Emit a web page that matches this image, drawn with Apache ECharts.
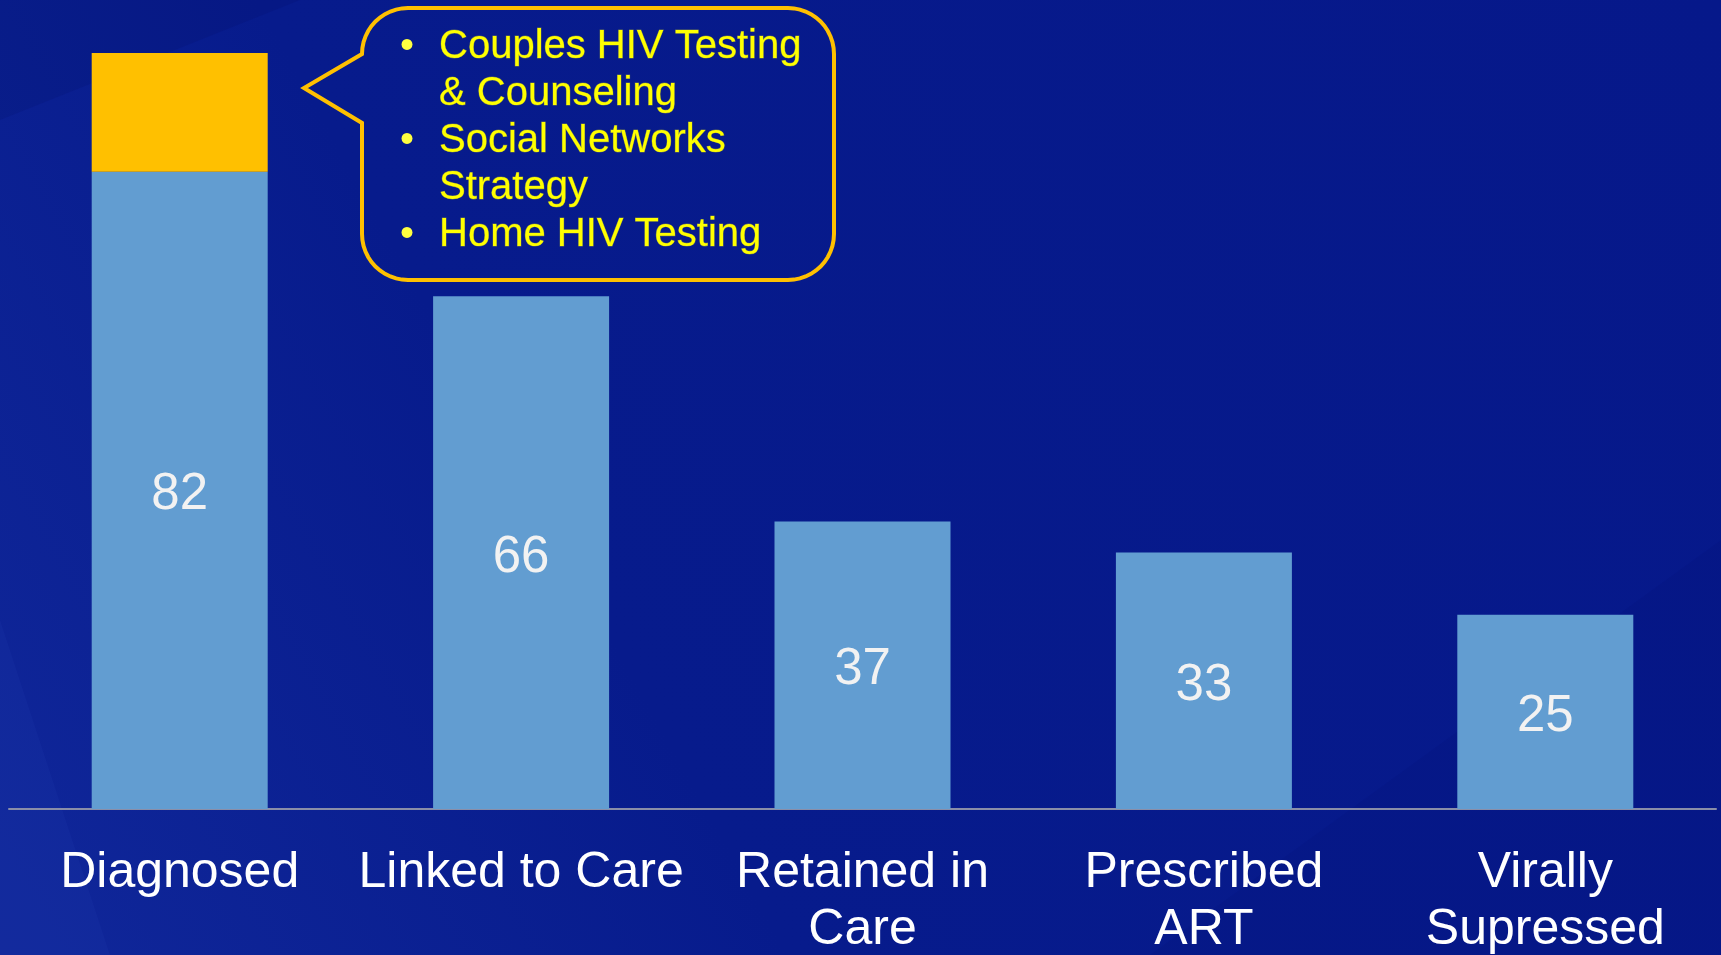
<!DOCTYPE html>
<html>
<head>
<meta charset="utf-8">
<script src="https://cdn.jsdelivr.net/npm/echarts@6/dist/echarts.min.js"></script>
<style>
html,body{margin:0;padding:0;background:#061a8a;}
#chart{width:1721px;height:955px;}
</style>
</head>
<body>
<div id="chart"></div>
<script>
const categories = ['Diagnosed', 'Linked to Care', 'Retained in\nCare', 'Prescribed\nART', 'Virally\nSupressed'];
const baseValues = [82, 66, 37, 33, 25];
const addedValues = [15.3, null, null, null, null];
const calloutLines = ['Couples HIV Testing', '& Counseling', 'Social Networks', 'Strategy', 'Home HIV Testing'];
const calloutBullets = [true, false, true, false, true];

const FONT = '"Liberation Sans", Arial, sans-serif';
const chart = echarts.init(document.getElementById('chart'));

// callout outline: rounded rectangle with a pointer on its left side
function bubblePoints(x0, y0, x1, y1, r, tip, py0, py1) {
  const pts = [];
  function arc(cx, cy, a0, a1) {
    const n = 12;
    for (let k = 0; k <= n; k++) {
      const a = a0 + (a1 - a0) * k / n;
      pts.push([cx + r * Math.cos(a), cy + r * Math.sin(a)]);
    }
  }
  arc(x0 + r, y0 + r, Math.PI, Math.PI * 1.5);
  arc(x1 - r, y0 + r, Math.PI * 1.5, Math.PI * 2);
  arc(x1 - r, y1 - r, 0, Math.PI * 0.5);
  arc(x0 + r, y1 - r, Math.PI * 0.5, Math.PI);
  pts.push([x0, py1]);
  pts.push(tip);
  pts.push([x0, py0]);
  return pts;
}

const graphics = [];
graphics.push({
  type: 'polygon', z: -5, silent: true,
  shape: { points: [[0, 120], [300, 0], [0, 0]] },
  style: { fill: 'rgba(0,8,80,0.12)' }
});
graphics.push({
  type: 'polygon', z: -5, silent: true,
  shape: { points: [[0, 955], [0, 620], [110, 955]] },
  style: { fill: 'rgba(70,90,200,0.08)' }
});
graphics.push({
  type: 'polygon', z: -5, silent: true,
  shape: { points: [[1150, 955], [1721, 540], [1721, 955]] },
  style: { fill: 'rgba(0,10,110,0.10)' }
});
graphics.push({
  type: 'polygon', z: 10, silent: true,
  shape: { points: bubblePoints(362, 8, 834, 280, 46, [304, 88], 54, 123) },
  style: { fill: 'rgba(0,0,0,0)', stroke: '#FFC000', lineWidth: 4, lineJoin: 'miter' }
});
const lineY = [47, 94, 141, 188, 235];
calloutLines.forEach((t, i) => {
  if (calloutBullets[i]) {
    graphics.push({
      type: 'text', z: 11, silent: true, x: 400, y: lineY[i],
      style: { text: '•', fill: '#FFFF40', font: '40px ' + FONT, verticalAlign: 'middle', align: 'left' }
    });
  }
  graphics.push({
    type: 'text', z: 11, silent: true, x: 439, y: lineY[i],
    style: { text: t, fill: '#FFFF00', font: '40px ' + FONT, verticalAlign: 'middle', align: 'left',
             stroke: 'rgba(255,255,0,0.35)', lineWidth: 0.8 }
  });
});

chart.setOption({
  backgroundColor: {
    type: 'linear', x: 0, y: 1, x2: 1, y2: 0,
    colorStops: [
      { offset: 0, color: '#10279a' },
      { offset: 0.35, color: '#071b8c' },
      { offset: 1, color: '#06188a' }
    ]
  },
  animation: false,
  grid: { left: 9, right: 5, top: 32, bottom: 146, containLabel: false, outerBoundsMode: 'none' },
  xAxis: {
    type: 'category',
    data: categories,
    axisTick: { show: false },
    axisLine: { lineStyle: { color: '#8a8ea8', width: 2 } },
    axisLabel: {
      interval: 0, color: '#ffffff', fontSize: 50, lineHeight: 57,
      fontFamily: FONT, margin: 36
    }
  },
  yAxis: {
    type: 'value', min: 0, max: 100, show: false,
    splitLine: { show: false }
  },
  series: [
    {
      type: 'bar', stack: 'total', barWidth: 176,
      data: baseValues,
      itemStyle: { color: '#629DD1' },
      label: {
        show: true, position: 'inside', color: '#f2f2f2',
        fontSize: 51, fontFamily: FONT, offset: [0, 5]
      }
    },
    {
      type: 'bar', stack: 'total', barWidth: 176,
      data: addedValues,
      itemStyle: { color: '#FFC000' },
      label: { show: false }
    }
  ],
  graphic: graphics
});
</script>
</body>
</html>
